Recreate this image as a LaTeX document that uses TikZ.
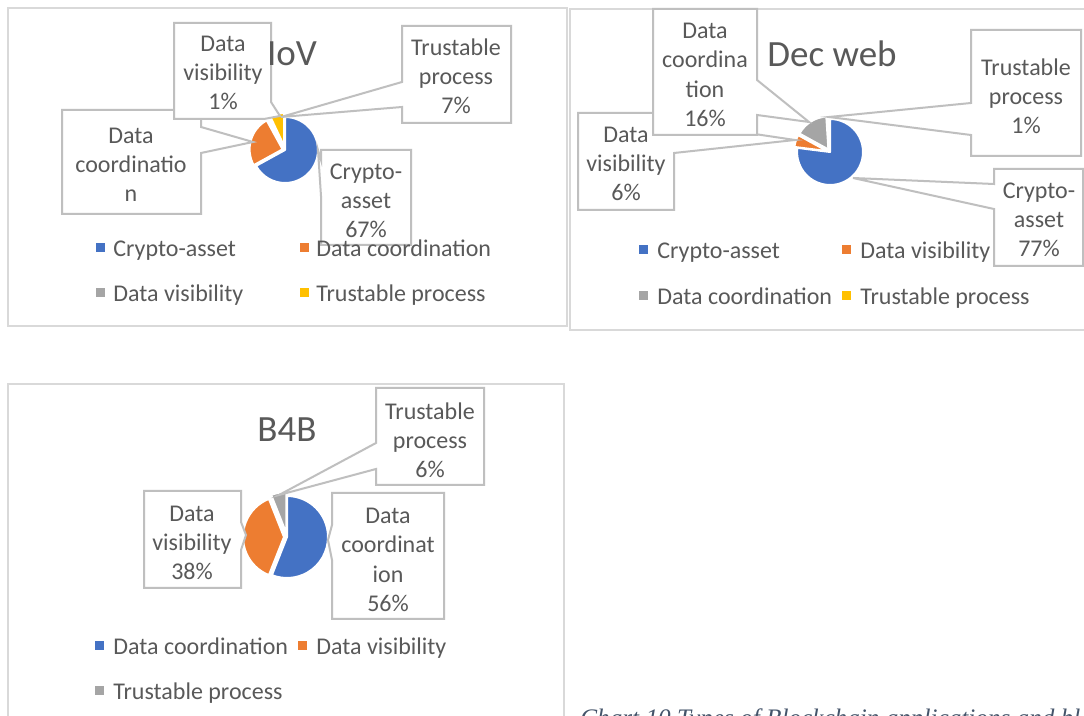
\documentclass[tikz,border=0pt]{standalone}
\usepackage{fontspec}
\setmainfont{Carlito}
\newfontfamily\captionserif{Liberation Serif}

\definecolor{xlblue}{HTML}{4472C4}
\definecolor{xlorange}{HTML}{ED7D31}
\definecolor{xlgray}{HTML}{A5A5A5}
\definecolor{xlyellow}{HTML}{FFC000}
\definecolor{txtgray}{HTML}{595959}
\definecolor{boxgray}{HTML}{BFBFBF}
\definecolor{framegray}{HTML}{D9D9D9}
\definecolor{capblue}{HTML}{44546A}

% one pie slice: colour, start angle, end angle, radius, explosion offset
\newcommand\drawslice[5]{%
  \pgfmathsetmacro\midang{(#2+#3)/2}%
  \fill[#1, slicesep] (\midang:#5) -- ++(#2:#4) arc[start angle=#2, end angle=#3, radius=#4] -- cycle;}

\tikzset{
  panel/.style={draw=framegray, line width=1.3pt},
  callout/.style={draw=boxgray, fill=white, line width=1pt, line join=miter},
  slicesep/.style={draw=white, line width=1pt, line join=round},
  lbl/.style={text=txtgray, font=\fontsize{12}{14.6}\selectfont, align=center, inner sep=0pt},
  charttitle/.style={text=txtgray, font=\fontsize{18.5}{22}\selectfont, inner sep=0pt},
  legtext/.style={text=txtgray, font=\fontsize{12}{14.6}\selectfont, anchor=base west, inner sep=0pt},
  legkey/.style={minimum size=4.5pt, inner sep=0pt, draw=none},
  captext/.style={text=capblue, font=\captionserif\itshape\fontsize{12.6}{14}\selectfont, inner sep=0pt},
}

\begin{document}
\begin{tikzpicture}[x=0.5pt, y=-0.5pt]
\useasboundingbox (0,0) rectangle (1084,716);
\clip (0,0) rectangle (1084,716);
\fill[white] (0,0) rectangle (1084,716);

% ---------------- chart frames ----------------
\draw[panel] (8,8) rectangle (567,326);
\draw[panel] (570,9) rectangle (1095,330);
\draw[panel] (8,384) rectangle (564,740);

% ================= IoV =================
\begin{scope}[shift={(285,150)}, x=0.5pt, y=0.5pt]
  \drawslice{xlblue}{90}{-151.2}{33}{0}
  \drawslice{xlorange}{208.8}{118.8}{33}{2.5}
  \drawslice{xlgray}{118.8}{115.2}{33}{3}
  \drawslice{xlyellow}{115.2}{90}{33}{4}
\end{scope}

\coordinate (iovdctip) at (253,142);
\coordinate (iovdvtip) at (280,116);
\coordinate (iovtptip) at (281,117);
\coordinate (iovcatip) at (318,150);

\draw[callout] (62,110) -- (201,110) -- (201,127) -- (iovdctip) -- (201,153) -- (201,214) -- (62,214) -- cycle;
\draw[callout] (174,23) -- (271,23) -- (271,102) -- (iovdvtip) -- (264,119) -- (174,119) -- cycle;
\draw[callout] (402,26) -- (511,26) -- (511,123) -- (402,123) -- (402,107) -- (iovtptip) -- (402,82) -- cycle;
\draw[callout] (321,150) -- (411,150) -- (411,245) -- (321,245) -- (321,196) -- (iovcatip) -- (321,160) -- cycle;

\node[lbl] (iovdc) at (131,165) {Data\\coordinatio\\n};
\node[lbl] (iovdv) at (223,73) {Data\\visibility\\1\%};
\node[lbl] (iovtp) at (456,76) {Trustable\\process\\7\%};
\node[lbl] (iovca) at (366,201) {Crypto-\\asset\\67\%};

\node[charttitle] (iovtitle) at (292,54) {IoV};

\node[legkey, fill=xlblue] (iovk1) at (100.5,248) {};
\node[legtext] (iovl1) at (113,257) {Crypto-asset};
\node[legkey, fill=xlorange] (iovk2) at (304,248) {};
\node[legtext] (iovl2) at (316,257) {Data coordination};
\node[legkey, fill=xlgray] (iovk3) at (100.5,293) {};
\node[legtext] (iovl3) at (113,302) {Data visibility};
\node[legkey, fill=xlyellow] (iovk4) at (304,293) {};
\node[legtext] (iovl4) at (316,302) {Trustable process};

% ================= Dec web =================
\begin{scope}[shift={(830,152)}, x=0.5pt, y=0.5pt]
  \drawslice{xlblue}{90}{-187.2}{33}{0}
  \drawslice{xlorange}{172.8}{151.2}{33}{3}
  \drawslice{xlgray}{151.2}{93.6}{33}{3}
  \drawslice{xlyellow}{93.6}{90}{33}{3}
\end{scope}

\coordinate (dwdvtip) at (795,140);
\coordinate (dwdctip) at (809,122);
\coordinate (dwtptip) at (829,117);
\coordinate (dwcatip) at (853,178);

\draw[callout] (578,113) -- (674,113) -- (674,122) -- (dwdvtip) -- (674,153) -- (674,210) -- (578,210) -- cycle;
\draw[callout] (653,9) -- (757,9) -- (757,80) -- (dwdctip) -- (757,115) -- (757,135) -- (653,135) -- cycle;
\draw[callout] (971,30) -- (1081,30) -- (1081,156) -- (971,156) -- (971,135) -- (dwtptip) -- (971,103) -- cycle;
\draw[callout] (994,169) -- (1083,169) -- (1083,266) -- (994,266) -- (994,209) -- (dwcatip) -- (994,184) -- cycle;

\node[lbl] (dwdc) at (705,75) {Data\\coordina\\tion\\16\%};
\node[lbl] (dwdv) at (626,164) {Data\\visibility\\6\%};
\node[lbl] (dwtp) at (1026,96) {Trustable\\process\\1\%};
\node[lbl] (dwca) at (1039,220) {Crypto-\\asset\\77\%};

\node[charttitle] (dwtitle) at (832,54) {Dec web};

\node[legkey, fill=xlblue] (dwk1) at (643,250) {};
\node[legtext] (dwl1) at (657,259) {Crypto-asset};
\node[legkey, fill=xlorange] (dwk2) at (846,250) {};
\node[legtext] (dwl2) at (860,259) {Data visibility};
\node[legkey, fill=xlgray] (dwk3) at (643,296) {};
\node[legtext] (dwl3) at (657,305) {Data coordination};
\node[legkey, fill=xlyellow] (dwk4) at (846,296) {};
\node[legtext] (dwl4) at (860,305) {Trustable process};

% ================= B4B =================
\begin{scope}[shift={(287,537)}, x=0.5pt, y=0.5pt]
  \drawslice{xlblue}{90}{-111.6}{41}{0}
  \drawslice{xlorange}{248.4}{111.6}{41}{3}
  \drawslice{xlgray}{111.6}{90}{41}{4}
\end{scope}

\coordinate (b4tptip) at (279,495);
\coordinate (b4dvtip) at (246,535);
\coordinate (b4dctip) at (328,540);

\draw[callout] (376,388) -- (484,388) -- (484,485) -- (376,485) -- (376,469) -- (b4tptip) -- (376,443) -- cycle;
\draw[callout] (144,491) -- (241,491) -- (241,522) -- (b4dvtip) -- (241,550) -- (241,588) -- (144,588) -- cycle;
\draw[callout] (332,493) -- (444,493) -- (444,619) -- (332,619) -- (332,560) -- (b4dctip) -- (332,525) -- cycle;

\node[lbl] (b4tp) at (430,440) {Trustable\\process\\6\%};
\node[lbl] (b4dv) at (192,543) {Data\\visibility\\38\%};
\node[lbl] (b4dc) at (388,560) {Data\\coordinat\\ion\\56\%};

\node[charttitle] (b4title) at (287,430) {B4B};

\node[legkey, fill=xlblue] (b4k1) at (99.5,646) {};
\node[legtext] (b4l1) at (113,655) {Data coordination};
\node[legkey, fill=xlorange] (b4k2) at (302.5,646) {};
\node[legtext] (b4l2) at (316,655) {Data visibility};
\node[legkey, fill=xlgray] (b4k3) at (99.5,691) {};
\node[legtext] (b4l3) at (113,700) {Trustable process};

% ---------------- caption ----------------
\node[captext, anchor=base west] (caption) at (580,727) {Chart 10 Types of Blockchain applications and bl};
\end{tikzpicture}
\end{document}
